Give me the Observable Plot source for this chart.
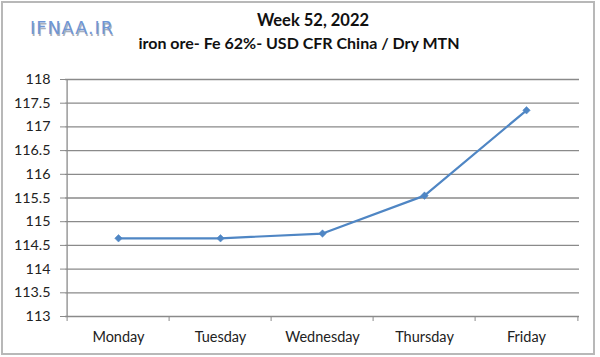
<!DOCTYPE html>
<html>
<head>
<meta charset="utf-8">
<script src="https://cdn.jsdelivr.net/npm/d3@7"></script>
<script src="https://cdn.jsdelivr.net/npm/@observablehq/plot@0.6"></script>
<style>
  html, body { margin: 0; padding: 0; background: #fff; }
  #wrap { position: relative; width: 600px; height: 357px; overflow: hidden; background: #fff; }
  #frame { position: absolute; left: 1px; top: 1px; width: 594px; height: 354px; border: 2px solid #b8b8b8; box-sizing: border-box; pointer-events: none; }
  #chart { position: absolute; left: 0; top: 0; }
  .t { position: absolute; font-family: Lato, "Open Sans", sans-serif; color: #111; white-space: nowrap; transform: translateX(-50%); line-height: 1; font-weight: bold; }
  #title { left: 313px; top: 12px; font-size: 16.5px; }
  #subtitle { left: 299px; top: 35px; font-size: 16px; }
  #brand { position: absolute; left: 30px; top: 20px; line-height: 1; font-family: "DejaVu Sans", "Liberation Sans", sans-serif; font-size: 17.5px; color: #6f96d6; letter-spacing: 1.1px; text-shadow: 1px 1.5px 0 #a9afbb; }
</style>
</head>
<body>
<div id="wrap">
  <div id="chart"></div>
  <div class="t" id="title">Week 52, 2022</div>
  <div class="t" id="subtitle">iron ore- Fe 62%- USD CFR China / Dry MTN</div>
  <div id="brand">IFNAA.IR</div>
  <div id="frame"></div>
</div>
<script>
const days = ["Monday", "Tuesday", "Wednesday", "Thursday", "Friday"];
const prices = [114.65, 114.65, 114.75, 115.55, 117.35];
const yTicks = [113, 113.5, 114, 114.5, 115, 115.5, 116, 116.5, 117, 117.5, 118];

const data = days.map((d, i) => ({day: d, price: prices[i]}));

const W = 600, H = 357;
const mL = 65, mR = 21, mT = 79, mB = 41;
const half = (W - mL - mR) / days.length / 2;
const gridColor = "#8a8a8a";
const lineColor = "#4f86c4";

const chart = Plot.plot({
  width: W,
  height: H,
  marginLeft: mL,
  marginRight: mR,
  marginTop: mT,
  marginBottom: mB,
  style: {fontFamily: "Lato, 'Open Sans', sans-serif", fontSize: "14px", color: "#222", background: "transparent"},
  x: {type: "point", domain: days, padding: 0.5, label: null},
  y: {domain: [113, 118], label: null},
  marks: [
    Plot.gridY(yTicks, {stroke: gridColor, strokeOpacity: 1, strokeWidth: 1.3}),
    Plot.ruleX([days[0]], {dx: -half, stroke: gridColor, strokeWidth: 1.3}),
    Plot.axisY({ticks: yTicks, tickSize: 5, tickPadding: 10, stroke: gridColor, tickFormat: d => String(d), label: null, fontSize: 14.3, fill: "#222"}),
    Plot.axisX({ticks: days, tickSize: 5, dx: -half, tickFormat: () => "", stroke: gridColor, label: null}),
    Plot.axisX({ticks: [days[days.length - 1]], tickSize: 5, dx: half, tickFormat: () => "", stroke: gridColor, label: null}),
    Plot.axisX({ticks: days, tickSize: 0, tickPadding: 15, label: null, fontSize: 14.5, fill: "#222"}),
    Plot.line(data, {x: "day", y: "price", stroke: lineColor, strokeWidth: 2.2}),
    Plot.dot(data, {x: "day", y: "price", symbol: "diamond2", r: 3.4, fill: lineColor, stroke: lineColor, strokeWidth: 0.5})
  ]
});
document.getElementById("chart").appendChild(chart);
</script>
</body>
</html>
